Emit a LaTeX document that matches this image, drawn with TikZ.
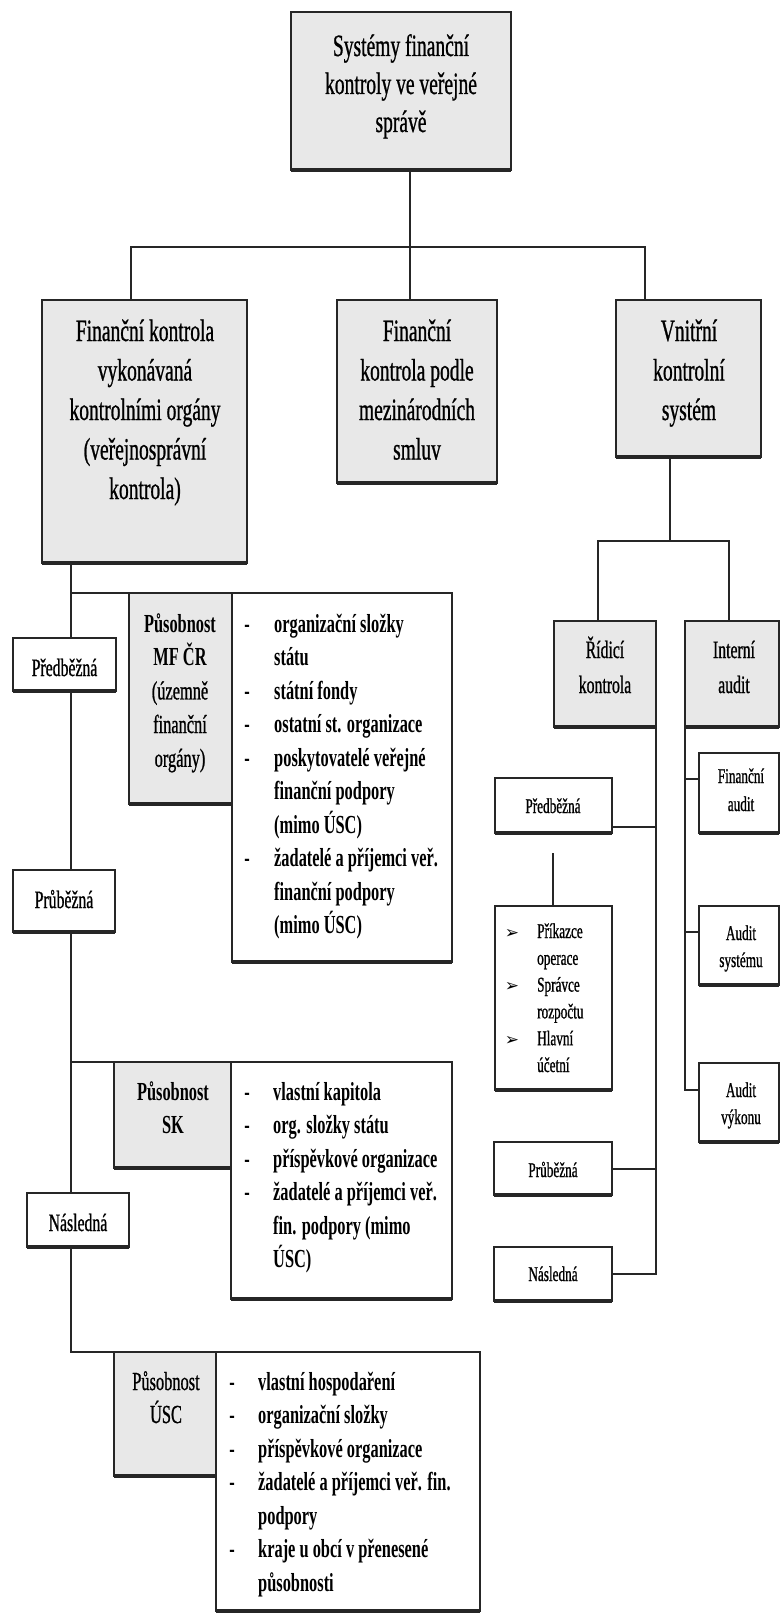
\documentclass[tikz,border=0pt]{standalone}
\usepackage{fontspec}
\setmainfont{Liberation Serif}[FakeStretch=0.63, UprightFeatures={FakeBold=0.8}]
\newfontfamily\symf{DejaVu Sans}
\usetikzlibrary{calc}
\pgfdeclarelayer{bg}
\pgfsetlayers{bg,main}
\newcommand\mkbox[6][box]{\node[#1, minimum width={(#5-#3)*1pt}, minimum height={(#6-#4)*1pt}] (#2) at (#3,#4) {};}
\tikzset{
  x=1pt, y=-1pt,
  ln/.style={draw=black!85, line width=2pt},
  box/.style={draw=black!85, line width=2pt, fill=white, inner sep=0pt, outer sep=0pt, anchor=north west,
     append after command={(\tikzlastnode.south west) edge[draw=black!85, line width=3.6pt] (\tikzlastnode.south east)}},
  gbox/.style={box, fill=black!9},
  big/.style={font=\fontsize{31}{39}\selectfont, inner sep=0pt, anchor=base},
  mid/.style={font=\fontsize{25}{35}\selectfont, inner sep=0pt, anchor=base},
  lst/.style={font=\fontsize{26}{33.5}\selectfont, inner sep=0pt, anchor=base},
  lstb/.style={font=\fontsize{26}{33.5}\selectfont\bfseries, inner sep=0pt, anchor=base},
  lab/.style={font=\fontsize{25}{30}\selectfont, inner sep=0pt, anchor=base},
  sml/.style={font=\fontsize{21}{27}\selectfont, inner sep=0pt, anchor=base},
  arr/.style={font=\symf\fontsize{17}{17}\selectfont, inner sep=0pt, anchor=base},
}
\begin{document}
\begin{tikzpicture}
\useasboundingbox (0,0) rectangle (780,1613);
\begin{pgfonlayer}{bg}
  \fill[white] (0,0) rectangle (780,1613);
\end{pgfonlayer}

% ---- boxes ----
\mkbox[gbox]{top}{291}{12}{511}{170}
\mkbox[gbox]{b1}{42}{300}{247}{563}
\mkbox[gbox]{b2}{337}{300}{497}{483}
\mkbox[gbox]{b3}{616}{300}{761}{457}
\mkbox[gbox]{rk}{554}{621}{656}{727}
\mkbox[gbox]{ia}{685}{621}{779}{727}
\mkbox{fa}{699}{753}{779}{833}
\mkbox{as}{699}{906}{779}{985}
\mkbox{av}{699}{1063}{779}{1142}
\mkbox{pr}{495}{778}{612}{833}
\mkbox{pk}{495}{906}{612}{1090}
\mkbox{prr}{494}{1142}{612}{1195}
\mkbox{nr}{494}{1247}{612}{1301}
\mkbox{pl}{13}{638}{116}{691}
\mkbox{pbl}{13}{870}{115}{932}
\mkbox{nl}{27}{1193}{129}{1247}
\mkbox[gbox]{mf}{129}{593}{232}{804}
\mkbox{mfl}{232}{593}{452}{962}
\mkbox[gbox]{sk}{114}{1062}{231}{1168}
\mkbox{skl}{231}{1062}{452}{1299}
\mkbox[gbox]{usc}{114}{1352}{216}{1476}
\mkbox{uscl}{216}{1352}{480}{1611}

% ---- connectors ----
\begin{pgfonlayer}{bg}
  \coordinate (c0) at (410,247);
  \coordinate (c1) at (131,247);
  \coordinate (c3) at (645,247);
  \draw[ln] (c0 |- top.south) -- (c0) -- (c0 |- b2.north);
  \draw[ln] (c1 |- b1.north) -- (c1) -- (c3) -- (c3 |- b3.north);
  \coordinate (d0) at (670,541);
  \coordinate (d1) at (598,541);
  \coordinate (d2) at (729,541);
  \draw[ln] (d0 |- b3.south) -- (d0);
  \draw[ln] (d1 |- rk.north) -- (d1) -- (d2) -- (d2 |- ia.north);
  % Ridici kontrola branch
  \draw[ln] (rk.south east) |- (nr.east);
  \draw[ln] (prr.east) -- (prr.east -| rk.east);
  \coordinate (e1) at (612,827);
  \draw[ln] (e1) -- (e1 -| rk.east);
  \coordinate (g1) at (553,853);
  \draw[ln] (g1) -- (g1 |- pk.north);
  % Interni audit branch
  \coordinate (f1) at (685,779);
  \coordinate (f2) at (685,932);
  \coordinate (f3) at (685,1090);
  \draw[ln] (ia.south west) -- (f3) -- (f3 -| av.west);
  \draw[ln] (f1) -- (f1 -| fa.west);
  \draw[ln] (f2) -- (f2 -| as.west);
  % left trunk
  \coordinate (h0) at (71,563);
  \coordinate (h3) at (71,1352);
  \draw[ln] (h0) -- (h3) -- (usc.north west);
  \draw[ln] (h0 |- mf.north) -- (mf.north west);
  \draw[ln] (h0 |- sk.north) -- (sk.north west);
\end{pgfonlayer}

% ---- texts ----
\foreach \t [count=\i from 0] in {Systémy finanční, kontroly ve veřejné, správě}
  \node[big] (tt\i) at (401,{56+38*\i}) {\t};
\foreach \t [count=\i from 0] in {Finanční kontrola, vykonávaná, kontrolními orgány, {(veřejnosprávní}, kontrola)}
  \node[big] (ta\i) at (145,{341+39.5*\i}) {\t};
\foreach \t [count=\i from 0] in {Finanční, kontrola podle, mezinárodních, smluv}
  \node[big] (tb\i) at (417,{341+39.5*\i}) {\t};
\foreach \t [count=\i from 0] in {Vnitřní, kontrolní, systém}
  \node[big] (tc\i) at (689,{341+39.5*\i}) {\t};

\node[mid] (rk0) at (605,658) {Řídicí};
\node[mid] (rk1) at (605,693) {kontrola};
\node[mid] (ia0) at (734,658) {Interní};
\node[mid] (ia1) at (734,693) {audit};

\node[sml] (fa0) at (741,783) {Finanční};
\node[sml] (fa1) at (741,811) {audit};
\node[sml] (as0) at (741,940) {Audit};
\node[sml] (as1) at (741,967) {systému};
\node[sml] (av0) at (741,1097) {Audit};
\node[sml] (av1) at (741,1124) {výkonu};

\node[sml] (prt) at (553,813) {Předběžná};
\node[sml] (prrt) at (553,1177) {Průběžná};
\node[sml] (nrt) at (553,1281) {Následná};
\foreach \b/\t [count=\i from 0] in {1/Příkazce, 0/operace, 1/Správce, 0/rozpočtu, 1/Hlavní, 0/účetní}{
  \node[sml, anchor=base west] (pk\i) at (537,{938+26.8*\i}) {\t};
  \ifnum\b=1 \node[arr] (pka\i) at (512,{938+26.8*\i}) {➢};\fi
}

\node[lab] (plt) at (64.5,676) {Předběžná};
\node[lab] (pblt) at (64,908) {Průběžná};
\node[lab] (nlt) at (78,1231) {Následná};

% MF CR
\node[lstb] (mf0) at (180,632) {Působnost};
\node[lstb] (mf1) at (180,665.7) {MF ČR};
\node[lst] (mf2) at (180,699.4) {(územně};
\node[lst] (mf3) at (180,733) {finanční};
\node[lst] (mf4) at (180,766.8) {orgány)};
\foreach \b/\t [count=\i from 0] in {1/organizační složky, 0/státu, 1/státní fondy, 1/ostatní st. organizace, 1/poskytovatelé veřejné, 0/finanční podpory, 0/{(mimo ÚSC)}, 1/žadatelé a příjemci veř., 0/finanční podpory, 0/{(mimo ÚSC)}}{
  \node[lstb, anchor=base west] (ma\i) at (274,{632+33.5*\i}) {\t};
  \ifnum\b=1 \node[lstb] (mb\i) at (247,{632+33.5*\i}) {-};\fi
}

% SK
\node[lstb] (sk0) at (173,1100) {Působnost};
\node[lstb] (sk1) at (173,1133.5) {SK};
\foreach \b/\t [count=\i from 0] in {1/vlastní kapitola, 1/org. složky státu, 1/příspěvkové organizace, 1/žadatelé a příjemci veř., 0/fin. podpory {(mimo}, 0/ÚSC)}{
  \node[lstb, anchor=base west] (sa\i) at (273,{1100+33.5*\i}) {\t};
  \ifnum\b=1 \node[lstb] (sb\i) at (247,{1100+33.5*\i}) {-};\fi
}

% USC
\node[lst] (us0) at (166,1390) {Působnost};
\node[lst] (us1) at (166,1423) {ÚSC};
\foreach \b/\t [count=\i from 0] in {1/vlastní hospodaření, 1/organizační složky, 1/příspěvkové organizace, 1/žadatelé a příjemci veř. fin., 0/podpory, 1/kraje u obcí v přenesené, 0/působnosti}{
  \node[lstb, anchor=base west] (ua\i) at (258,{1390+33.5*\i}) {\t};
  \ifnum\b=1 \node[lstb] (ub\i) at (232,{1390+33.5*\i}) {-};\fi
}
\end{tikzpicture}
\end{document}
